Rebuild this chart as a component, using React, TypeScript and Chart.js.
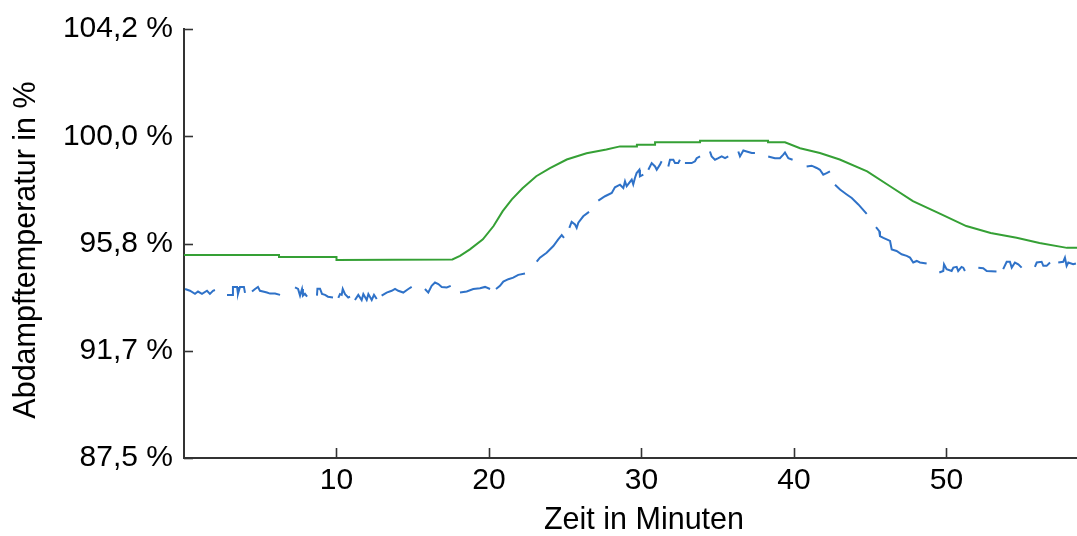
import React, { useEffect, useRef } from "react";
import { Chart, registerables } from "chart.js";

Chart.register(...registerables);

// ---- data ----
const xTickValues = [10, 20, 30, 40, 50];
const yTickValues = [87.5, 91.675, 95.85, 100.025, 104.2];
const yTickLabels = ["87,5 %", "91,7 %", "95,8 %", "100,0 %", "104,2 %"];
const xTitle = "Zeit in Minuten";
const yTitle = "Abdampftemperatur in %";

const greenTime = [0, 6.23, 6.23, 10.0, 10.0, 17.6, 18.1, 18.75, 19.6, 20.3, 20.9, 21.5, 22.2, 23.1, 24.0, 25.1, 26.4, 27.7, 28.59, 29.7, 29.7, 30.89, 30.89, 33.84, 33.84, 38.3, 38.3, 39.41, 40.4, 41.7, 43.0, 44.8, 46.3, 47.8, 49.6, 51.3, 52.9, 54.6, 56.1, 57.9, 58.56];
const greenVal = [95.4, 95.4, 95.32, 95.32, 95.21, 95.23, 95.37, 95.62, 96.01, 96.53, 97.11, 97.57, 98.0, 98.47, 98.78, 99.12, 99.36, 99.51, 99.63, 99.63, 99.69, 99.69, 99.79, 99.79, 99.85, 99.85, 99.79, 99.79, 99.56, 99.37, 99.12, 98.66, 98.08, 97.5, 97.0, 96.53, 96.26, 96.07, 95.87, 95.68, 95.68];

const blueTime = [
  0.07, 0.39, 0.72, 0.92, 1.18, 1.51, 1.7, 1.9, 2.03, 2.4,
  2.82, 3.15, 3.21, 3.48, 3.54, 3.67, 3.93, 4.0, 4.2,
  4.46, 4.66, 4.85, 4.98, 5.18, 5.44, 5.64, 5.97, 6.3, 6.8,
  7.28, 7.48, 7.61, 7.74, 7.8, 7.93, 8.07, 8.4,
  8.72, 8.75, 8.92, 9.05, 9.25, 9.44, 9.77, 9.95,
  10.12, 10.23, 10.34, 10.41, 10.56, 10.77, 10.89, 11.05,
  11.21, 11.43, 11.65, 11.76, 11.98, 12.09, 12.31, 12.46, 12.64, 12.8,
  12.96, 13.29, 13.62, 13.84, 14.05, 14.38, 14.71, 14.93, 15.3,
  15.8, 16.02, 16.24, 16.46, 16.68, 16.9, 17.23, 17.49, 17.8,
  18.1, 18.54, 18.97, 19.41, 19.74, 20.07, 20.25,
  20.46, 20.72, 20.94, 21.27, 21.59, 21.92, 22.36, 22.8,
  23.13, 23.34, 23.78, 24.22, 24.54, 24.77, 24.92, 25.1,
  25.27, 25.42, 25.64, 25.75, 25.86, 26.18, 26.56, 26.9,
  27.17, 27.61, 28.05, 28.26, 28.59, 28.81, 28.92, 29.03, 29.36, 29.46, 29.57, 29.68, 29.86, 29.9, 30.12, 30.3,
  30.45, 30.67, 30.89, 31.0, 31.21, 31.32, 31.55,
  31.76, 31.87, 32.09, 32.2, 32.41, 32.52, 32.7,
  32.85, 33.29, 33.51, 33.62, 33.84, 34.2,
  34.49, 34.6, 34.82, 35.04, 35.26, 35.48, 35.69, 36.0,
  36.35, 36.46, 36.68, 36.9, 37.23, 37.44, 37.9,
  38.31, 38.75, 39.08, 39.3, 39.41, 39.63, 39.91, 40.4,
  40.83, 41.16, 41.49, 41.7, 41.92, 42.14, 42.36, 42.55,
  42.69, 43.02, 43.46, 43.79, 44.22, 44.77, 45.1,
  45.38, 45.59, 45.64, 45.86, 46.08, 46.3, 46.41, 46.73, 47.06, 47.39, 47.61, 47.82, 48.05, 48.26, 48.7, 49.1,
  49.53, 49.79, 49.84, 50.01, 50.34, 50.45, 50.67, 50.77, 50.99, 51.1, 51.21, 51.6,
  52.09, 52.41, 52.64, 53.28, 53.5,
  53.72, 53.95, 54.16, 54.28, 54.49, 54.71, 54.93, 55.35,
  55.8, 55.92, 56.24, 56.35, 56.57, 56.79, 57.05,
  57.33, 57.66, 57.77, 57.88, 57.99, 58.31, 58.49,
];
const blueVal = [
  94.08, 94.01, 93.89, 93.98, 93.89, 94.01, 93.89, 94.01, 94.04, null,
  93.85, 93.85, 94.16, 94.16, 93.89, 94.16, 94.16, 93.93, null,
  93.98, 94.08, 94.16, 94.01, 93.98, 93.94, 93.9, 93.9, 93.85, null,
  94.14, 94.08, 93.82, 94.08, 93.82, 93.89, 93.78, null,
  93.82, 94.09, 94.09, 93.89, 93.85, 93.78, 93.75, null,
  93.73, 93.88, 93.85, 94.08, 93.88, 93.75, 93.78, null,
  93.65, 93.85, 93.65, 93.88, 93.65, 93.88, 93.65, 93.85, 93.69, null,
  93.82, 93.94, 94.01, 94.08, 94.01, 93.94, 94.08, 94.16, null,
  94.08, 93.94, 94.2, 94.33, 94.27, 94.16, 94.14, 94.2, null,
  93.94, 93.98, 94.08, 94.11, 94.16, 94.08, null,
  94.08, 94.2, 94.37, 94.46, 94.52, 94.63, 94.68, null,
  95.14, 95.3, 95.49, 95.75, 96.01, 96.18, 96.07, null,
  96.46, 96.69, 96.59, 96.46, 96.66, 96.91, 97.08, null,
  97.52, 97.69, 97.82, 98.04, 98.14, 98.01, 98.27, 98.08, 98.34, 98.15, 98.4, 98.59, 98.72, 98.46, 98.53, null,
  98.72, 98.98, 98.85, 98.72, 98.92, 99.05, null,
  98.85, 99.11, 99.11, 98.98, 98.98, 99.11, null,
  98.98, 98.98, 99.05, 99.17, 99.24, null,
  99.43, 99.24, 99.11, 99.17, 99.24, 99.17, 99.24, null,
  99.43, 99.24, 99.47, 99.43, 99.37, 99.37, null,
  99.24, 99.17, 99.17, 99.31, 99.39, 99.17, 99.11, null,
  98.85, 98.88, 98.79, 98.72, 98.53, 98.59, 98.66, null,
  98.14, 97.95, 97.76, 97.62, 97.37, 97.0, null,
  96.49, 96.33, 96.14, 96.07, 96.01, 95.95, 95.62, 95.56, 95.43, 95.37, 95.3, 95.11, 95.17, 95.11, 95.07, null,
  94.72, 94.78, 95.04, 94.85, 94.78, 94.91, 94.94, 94.78, 94.94, 94.91, 94.78, null,
  94.91, 94.89, 94.78, 94.76, null,
  94.85, 95.14, 95.14, 94.91, 95.11, 95.04, 94.91, null,
  94.94, 95.11, 95.14, 94.98, 94.98, 95.11, null,
  95.11, 95.14, 95.3, 94.98, 95.11, 95.04, 95.07,
];

const X_MIN = 0;
const X_MAX = 58.56;
const Y_MIN = 87.5;
const Y_MAX = 104.2;

const FONT = '"Liberation Sans", Arial, Helvetica, sans-serif';
const AXIS_COLOR = "#333333";
const GREEN = "#35a035";
const BLUE = "#2f72c8";

const axisDecor = {
  id: "axisDecor",
  afterDraw(chart: any) {
    const { ctx, chartArea, scales } = chart;
    ctx.save();
    ctx.strokeStyle = AXIS_COLOR;
    ctx.lineWidth = 1.6;
    scales.x.ticks.forEach((t: any) => {
      const px = Math.round(scales.x.getPixelForValue(t.value)) + 0.5;
      ctx.beginPath();
      ctx.moveTo(px, chartArea.bottom);
      ctx.lineTo(px, chartArea.bottom - 10);
      ctx.stroke();
    });
    scales.y.ticks.forEach((t: any) => {
      const py = Math.round(scales.y.getPixelForValue(t.value)) + 0.5;
      ctx.beginPath();
      ctx.moveTo(chartArea.left, py);
      ctx.lineTo(chartArea.left + 9, py);
      ctx.stroke();
    });
    ctx.fillStyle = "#000";
    ctx.font = `30.5px ${FONT}`;
    ctx.textAlign = "center";
    ctx.textBaseline = "alphabetic";
    ctx.fillText(xTitle, 644, 529);
    ctx.translate(35, 250);
    ctx.rotate(-Math.PI / 2);
    ctx.fillText(yTitle, 0, 0);
    ctx.restore();
  },
};

export default function App() {
  const ref = useRef<HTMLCanvasElement | null>(null);
  useEffect(() => {
    if (!ref.current) return;
    const green = greenTime.map((t, i) => ({ x: t, y: greenVal[i] }));
    const blue = blueTime.map((t, i) => ({ x: t, y: blueVal[i] }));
    const chart = new Chart(ref.current, {
      type: "line",
      data: {
        datasets: [
          {
            label: "Soll",
            data: green,
            borderColor: GREEN,
            borderWidth: 2,
            pointRadius: 0,
            tension: 0,
            spanGaps: false,
          },
          {
            label: "Ist",
            data: blue as any,
            borderColor: BLUE,
            borderWidth: 2,
            pointRadius: 0,
            tension: 0,
            spanGaps: false,
          },
        ],
      },
      options: {
        animation: false,
        responsive: true,
        maintainAspectRatio: false,
        layout: { padding: { top: 27, right: 0, bottom: 0, left: 0 } },
        plugins: { legend: { display: false }, tooltip: { enabled: false } },
        scales: {
          x: {
            type: "linear",
            min: X_MIN,
            max: X_MAX,
            afterBuildTicks: (scale: any) => {
              scale.ticks = xTickValues.map((v) => ({ value: v }));
            },
            afterFit: (scale: any) => {
              scale.height = 78;
            },
            grid: { display: false, drawTicks: false },
            border: { display: true, color: AXIS_COLOR, width: 2 },
            ticks: {
              color: "#000",
              font: { family: FONT, size: 30 },
              padding: 5,
              maxRotation: 0,
              autoSkip: false,
              callback: (v: any) => String(v),
            },
          },
          y: {
            type: "linear",
            min: Y_MIN,
            max: Y_MAX,
            afterBuildTicks: (scale: any) => {
              scale.ticks = yTickValues.map((v) => ({ value: v }));
            },
            afterFit: (scale: any) => {
              scale.width = 184;
            },
            grid: { display: false, drawTicks: false },
            border: { display: true, color: AXIS_COLOR, width: 2 },
            ticks: {
              color: "#000",
              font: { family: FONT, size: 30 },
              padding: 11,
              autoSkip: false,
              callback: (_v: any, i: number) => yTickLabels[i],
            },
          },
        },
      },
      plugins: [axisDecor],
    });
    return () => chart.destroy();
  }, []);
  return (
    <div style={{ position: "absolute", left: 0, top: 0, width: 1077, height: 536, background: "#fff" }}>
      <canvas ref={ref} />
    </div>
  );
}
